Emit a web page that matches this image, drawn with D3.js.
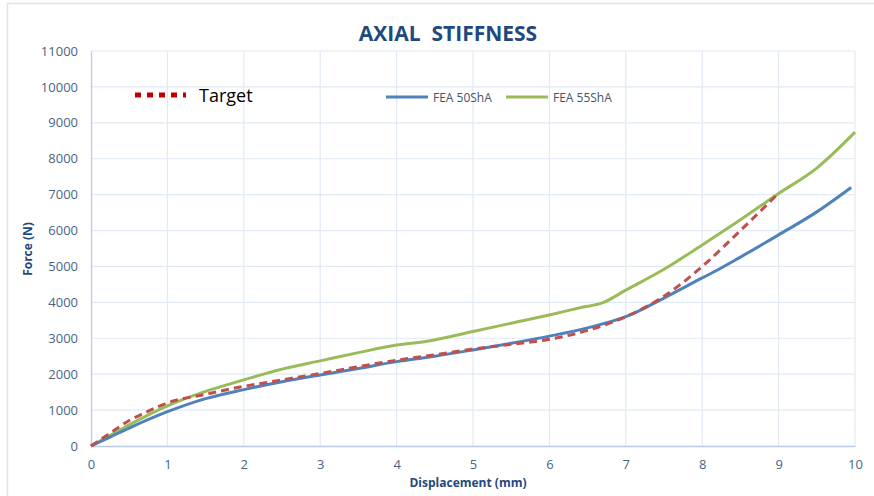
<!DOCTYPE html>
<html>
<head>
<meta charset="utf-8">
<script src="https://cdn.jsdelivr.net/npm/d3@7"></script>
<style>
  body { margin: 0; background: #fff; }
  svg { font-family: "Open Sans", "Liberation Sans", sans-serif; }
</style>
</head>
<body>
<svg id="chart" width="874" height="496"></svg>
<script>
// data: displacement (mm) -> force (N)
var disp50 = [0, 0.25, 0.5, 1, 1.5, 2, 2.5, 3, 3.5, 4, 4.5, 5, 5.5, 6, 6.5, 7, 7.5, 8, 8.2, 8.5, 9, 9.5, 9.95];
var force50 = [0, 250, 500, 955, 1320, 1570, 1790, 1980, 2160, 2350, 2500, 2675, 2860, 3060, 3290, 3600, 4120, 4680, 4900, 5260, 5880, 6520, 7200];

var disp55 = [0, 0.25, 0.5, 1, 1.5, 2, 2.5, 3, 3.5, 4, 4.4, 5, 5.5, 6, 6.4, 6.7, 7, 7.5, 8, 8.5, 9, 9.5, 10];
var force55 = [0, 290, 590, 1120, 1520, 1840, 2140, 2370, 2600, 2810, 2920, 3190, 3420, 3650, 3850, 3990, 4340, 4920, 5600, 6300, 7030, 7740, 8740];

var dispTarget = [0, 0.25, 0.5, 0.7, 1, 1.5, 2, 2.5, 3, 3.5, 4, 4.5, 5, 5.5, 6, 6.5, 7, 7.5, 8, 8.5, 9];
var forceTarget = [0, 360, 710, 920, 1200, 1440, 1660, 1840, 2020, 2210, 2390, 2540, 2700, 2830, 2970, 3220, 3600, 4170, 5000, 6000, 7040];

var xTicks = [0, 1, 2, 3, 4, 5, 6, 7, 8, 9, 10];
var yTicks = [0, 1000, 2000, 3000, 4000, 5000, 6000, 7000, 8000, 9000, 10000, 11000];

var svg = d3.select("#chart");

// chart frame
svg.append("rect")
    .attr("x", 7.5).attr("y", 3.5)
    .attr("width", 900).attr("height", 520)
    .attr("fill", "none")
    .attr("stroke", "#dbe5f1")
    .attr("stroke-width", 1.5);

var plotLeft = 91, plotRight = 855, plotTop = 51, plotBottom = 446;

var x = d3.scaleLinear().domain([0, 10]).range([plotLeft, plotRight]);
var y = d3.scaleLinear().domain([0, 11000]).range([plotBottom, plotTop]);

// gridlines
svg.append("g").selectAll("line")
    .data(xTicks.slice(1))
    .enter().append("line")
    .attr("x1", function(d) { return x(d); }).attr("x2", function(d) { return x(d); })
    .attr("y1", plotTop).attr("y2", plotBottom)
    .attr("stroke", "#e1e9f4").attr("stroke-width", 1.2);

svg.append("g").selectAll("line")
    .data(yTicks.slice(1))
    .enter().append("line")
    .attr("x1", plotLeft).attr("x2", plotRight)
    .attr("y1", function(d) { return y(d); }).attr("y2", function(d) { return y(d); })
    .attr("stroke", "#e1e9f4").attr("stroke-width", 1.2);

// axes
var xAxis = svg.append("g")
    .attr("transform", "translate(0," + plotBottom + ")")
    .call(d3.axisBottom(x).tickValues(xTicks).tickSize(0).tickPadding(14).tickFormat(d3.format("d")));
var yAxis = svg.append("g")
    .attr("transform", "translate(" + plotLeft + ",0)")
    .call(d3.axisLeft(y).tickValues(yTicks).tickSize(0).tickPadding(13).tickFormat(d3.format("d")));

[xAxis, yAxis].forEach(function(a) {
  a.select(".domain").attr("stroke", "#b9cbe6").attr("stroke-width", 1.3);
  a.selectAll("text")
    .attr("fill", "#4a6487")
    .attr("font-size", "13px")
    .attr("font-family", "'Open Sans', sans-serif");
});

// lines
var line = d3.line()
    .x(function(d) { return x(d[0]); })
    .y(function(d) { return y(d[1]); })
    .curve(d3.curveMonotoneX);

var series = [
  { name: "FEA 55ShA", xs: disp55, ys: force55, color: "#9bbb59", dash: null },
  { name: "FEA 50ShA", xs: disp50, ys: force50, color: "#4f81bd", dash: null },
  { name: "Target", xs: dispTarget, ys: forceTarget, color: "#c0504d", dash: "8,5" }
];

series.forEach(function(s) {
  var pts = s.xs.map(function(v, i) { return [v, s.ys[i]]; });
  svg.append("path")
    .datum(pts)
    .attr("d", line)
    .attr("fill", "none")
    .attr("stroke", s.color)
    .attr("stroke-width", 3)
    .attr("stroke-dasharray", s.dash);
});

// title
svg.append("text")
    .attr("x", 448).attr("y", 41)
    .attr("text-anchor", "middle")
    .attr("fill", "#1f497d")
    .attr("font-size", "21px")
    .attr("font-weight", "bold")
    .style("white-space", "pre")
    .text("AXIAL  STIFFNESS");

// axis titles
svg.append("text")
    .attr("x", 468).attr("y", 487)
    .attr("text-anchor", "middle")
    .attr("fill", "#1f497d")
    .attr("font-size", "12px")
    .attr("font-weight", "bold")
    .text("Displacement (mm)");

svg.append("text")
    .attr("transform", "translate(32,249) rotate(-90)")
    .attr("text-anchor", "middle")
    .attr("fill", "#1f497d")
    .attr("font-size", "12px")
    .attr("font-weight", "bold")
    .text("Force (N)");

// legends
svg.append("line")
    .attr("x1", 135).attr("x2", 186).attr("y1", 95).attr("y2", 95)
    .attr("stroke", "#c00000").attr("stroke-width", 5)
    .attr("stroke-dasharray", "6,6");
svg.append("text")
    .attr("x", 199).attr("y", 102)
    .attr("fill", "#000")
    .attr("font-size", "18px")
    .text("Target");

var legendItems = [series[1], series[0]];
var legend = svg.selectAll(".legend")
    .data(legendItems)
    .enter().append("g")
    .attr("class", "legend")
    .attr("transform", function(d, i) { return "translate(" + (386 + i * 120) + ",97)"; });

legend.append("line")
    .attr("x1", 0).attr("x2", 42)
    .attr("stroke", function(d) { return d.color; })
    .attr("stroke-width", 3);
legend.append("text")
    .attr("x", 47).attr("y", 4.5)
    .attr("fill", "#44546a")
    .attr("font-size", "12px")
    .text(function(d) { return d.name; });
</script>
</body>
</html>
